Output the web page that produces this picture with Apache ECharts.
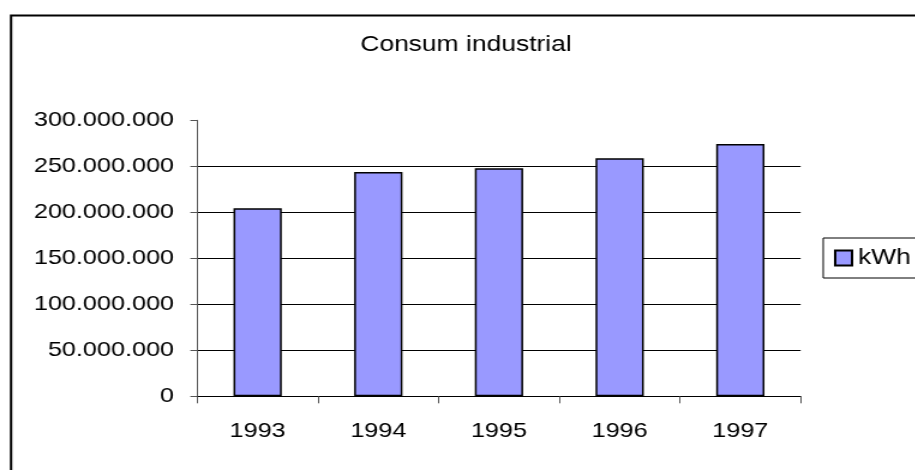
<!DOCTYPE html>
<html>
<head>
<meta charset="utf-8">
<script src="https://cdn.jsdelivr.net/npm/echarts@6/dist/echarts.min.js"></script>
<style>
  html, body { margin: 0; padding: 0; background: #fff; overflow: hidden; }
  #wrap { width: 915px; height: 470px; overflow: hidden; position: relative; }
  /* the original picture is stretched sideways, so draw narrower and stretch */
  #main { width: 763px; height: 470px; transform: scaleX(1.2); transform-origin: 0 0; }
</style>
</head>
<body>
<div id="wrap"><div id="main"></div></div>
<script>
var years = ['1993', '1994', '1995', '1996', '1997']
var kwh = [204300000, 243800000, 247800000, 258700000, 274200000]
var seriesName = 'kWh'
var titleText = 'Consum industrial'

var font = "'Liberation Sans', Arial, sans-serif"

// 300000000 -> 300.000.000
function dots (v) {
  return String(Math.round(v)).replace(/\B(?=(\d{3})+(?!\d))/g, '.')
}

var myChart = echarts.init(document.getElementById('main'))

var option = {
  backgroundColor: '#fff',
  animation: false,
  title: {
    text: titleText,
    left: 388.3,
    top: 34,
    padding: 0,
    textAlign: 'center',
    textStyle: { fontFamily: font, fontSize: 22, fontWeight: 'normal', color: '#000' }
  },
  legend: {
    data: [seriesName],
    icon: 'rect',
    left: 686,
    top: 238,
    orient: 'vertical',
    padding: [9, 40, 9, 9],
    itemWidth: 14,
    itemHeight: 15,
    itemGap: 0,
    borderColor: '#000',
    borderWidth: 1,
    textStyle: { fontFamily: font, fontSize: 22, color: '#000' }
  },
  grid: {
    left: 164.4,
    right: 95.8,
    top: 120.3,
    bottom: 470 - 396.3,
    containLabel: false
  },
  xAxis: {
    type: 'category',
    data: years,
    axisLine: { lineStyle: { color: '#000', width: 1 } },
    axisTick: { show: true, length: 7, lineStyle: { color: '#555' } },
    axisLabel: { margin: 24, fontFamily: font, fontSize: 21, color: '#000' },
    splitLine: { show: false }
  },
  yAxis: {
    type: 'value',
    min: 0,
    max: 300000000,
    interval: 50000000,
    axisLine: { show: true, lineStyle: { color: '#555', width: 1 } },
    axisTick: { show: true, length: 5.8, lineStyle: { color: '#555' } },
    axisLabel: {
      margin: 19.4,
      fontFamily: font,
      fontSize: 21,
      color: '#000',
      formatter: dots
    },
    splitLine: { show: true, showMaxLine: false, lineStyle: { color: '#000', width: 1 } }
  },
  series: [
    {
      name: seriesName,
      type: 'bar',
      data: kwh,
      barWidth: '40%',
      itemStyle: {
        color: '#9999ff',
        borderColor: '#000',
        borderWidth: 1.5
      }
    }
  ],
  graphic: [
    {
      type: 'rect',
      left: 6.7,
      top: 13,
      shape: { x: 0, y: 0, width: 2000, height: 2000 },
      style: { fill: 'none', stroke: '#000', lineWidth: 2 },
      silent: true
    }
  ]
}

myChart.setOption(option)
</script>
</body>
</html>
